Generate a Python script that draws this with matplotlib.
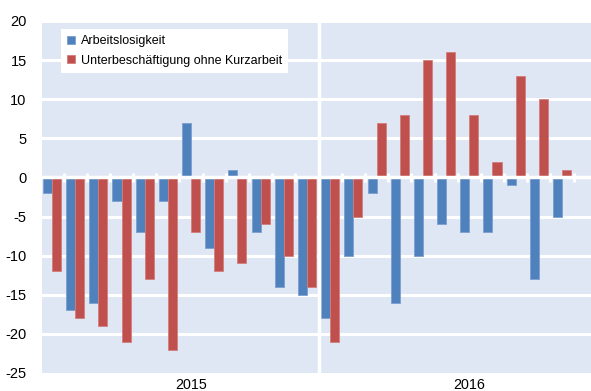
import numpy as np
import matplotlib
matplotlib.use("Agg")
import matplotlib.pyplot as plt

plt.rcParams['font.family'] = ['Liberation Sans', 'DejaVu Sans']
plt.rcParams['axes.unicode_minus'] = False

# monthly change, Jan 2015 .. Dec 2016 (Dec 2016 not yet available)
arbeitslosigkeit = [-2, -17, -16, -3, -7, -3, 7, -9, 1, -7, -14, -15,
                    -18, -10, -2, -16, -10, -6, -7, -7, -1, -13, -5, np.nan]
unterbeschaeftigung = [-12, -18, -19, -21, -13, -22, -7, -12, -11, -6, -10, -14,
                       -21, -5, 7, 8, 15, 16, 8, 2, 13, 10, 1, np.nan]
years = ["2015", "2016"]
series_labels = ["Arbeitslosigkeit", "Unterbeschäftigung ohne Kurzarbeit"]

blue = "#4f81bd"
red = "#c0504d"
bg = "#e0e7f4"

fig = plt.figure(figsize=(5.91, 3.91), dpi=100)
ax = fig.add_axes([42 / 591, 1 - 373 / 391, (591 - 42) / 591, (373 - 21) / 391])
ax.set_facecolor(bg)

x = np.arange(len(arbeitslosigkeit))
w = 0.39
ax.bar(x - w / 2, arbeitslosigkeit, w, color=blue, edgecolor="#7b9fd0",
       linewidth=0.6, label=series_labels[0], zorder=2)
ax.bar(x + w / 2, unterbeschaeftigung, w, color=red, edgecolor="#d27f7d",
       linewidth=0.6, label=series_labels[1], zorder=2)

# horizontal grid behind the bars
for y in range(-20, 21, 5):
    if y != 0:
        ax.axhline(y, color="white", lw=2.2, zorder=1)
ax.axhline(0, color="white", lw=2.5, zorder=3)
# year separator
ax.axvline(11.5, color="white", lw=2.5, zorder=3)
# small category ticks on the zero line
for b in np.arange(0.5, 23, 1.0):
    ax.plot([b, b], [-0.6, 0.6], color="white", lw=2.2, zorder=3,
            solid_capstyle="butt")

ax.set_xlim(-0.43, 23.25)
ax.set_ylim(-25, 20)
ax.set_yticks(range(-25, 21, 5))
ax.set_xticks([])
ax.tick_params(axis="y", length=0, labelsize=10.5, pad=11)
for s in ax.spines.values():
    s.set_visible(False)

for xi, yr in zip([6, 18], years):
    ax.text(xi, -25.6, yr, ha="center", va="top", fontsize=10.3)

leg = ax.legend(loc="upper left", bbox_to_anchor=(0.0346, 0.977), frameon=True,
                fancybox=False, edgecolor="white", facecolor="white",
                framealpha=1, fontsize=9, handlelength=0.6, handleheight=0.6,
                handletextpad=0.5, borderpad=0.5, labelspacing=0.6,
                borderaxespad=0)
leg.get_frame().set_linewidth(0)

fig.savefig("out.png", dpi=100)
